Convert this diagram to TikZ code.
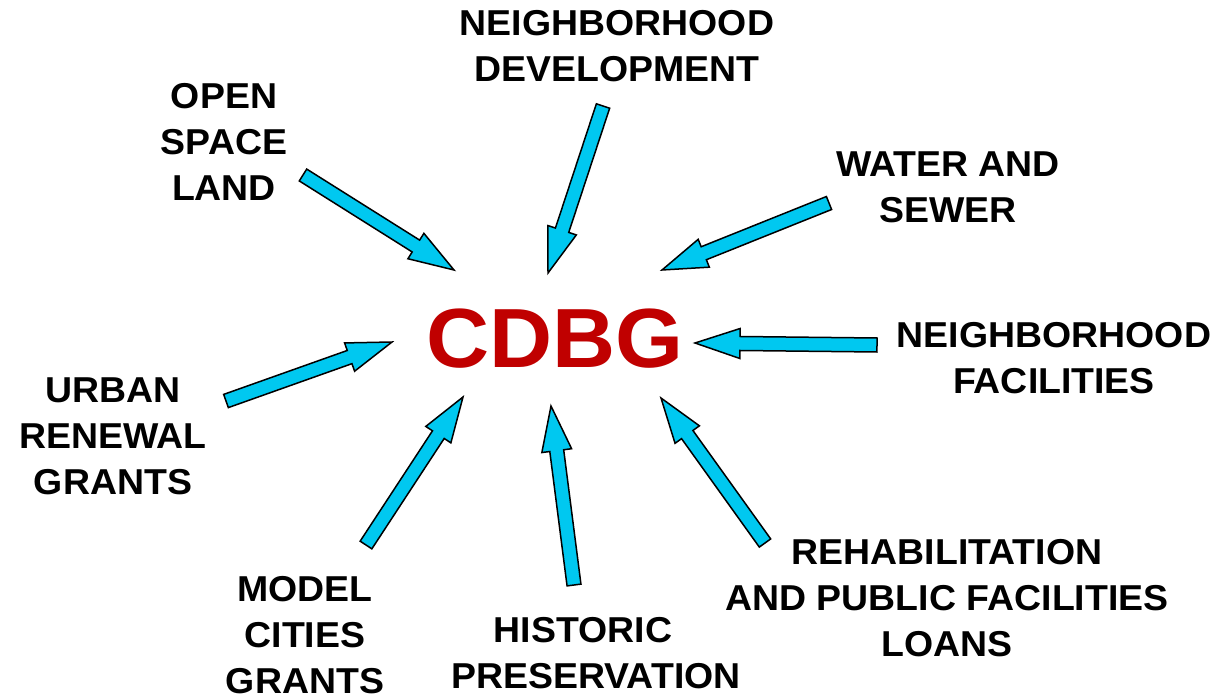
\documentclass[tikz,border=0pt]{standalone}
\usepackage{fontspec}
\setmainfont{Liberation Sans}
\newfontfamily\lblfont[FakeStretch=1.04]{Liberation Sans}
\usetikzlibrary{calc}
\definecolor{arrowfill}{RGB}{0,200,240}
\definecolor{cdbgred}{RGB}{192,0,0}
\tikzset{
  lbl/.style={font=\lblfont\bfseries\fontsize{36}{46}\selectfont, align=center, inner sep=0pt, text=black},
  hub/.style={font=\lblfont\bfseries\fontsize{84}{90}\selectfont, inner sep=0pt, text=cdbgred},
  barrow/.style={fill=arrowfill, draw=black, line width=1.5pt, line join=miter}
}
\newcommand\blockarrow[2]{%
  \coordinate (#1-h) at ($(#2)!45pt!(#1)$);
  \draw[barrow] ($(#1)!7pt!90:(#2)$) -- ($(#1-h)!7pt!90:(#2)$) -- ($(#1-h)!15pt!90:(#2)$) -- (#2)
    -- ($(#1-h)!15pt!-90:(#2)$) -- ($(#1-h)!7pt!-90:(#2)$) -- ($(#1)!7pt!-90:(#2)$) -- cycle;
}
\begin{document}
\begin{tikzpicture}[x=1pt,y=-1pt]
\useasboundingbox[fill=white] (0,0) rectangle (1218,698);
\node[hub] (cdbg) at (555,338.5) {CDBG};
\node[lbl] (nd) at (617,46) {NEIGHBORHOOD\\DEVELOPMENT};
\node[lbl] (os) at (224,141.5) {OPEN\\SPACE\\LAND};
\node[lbl] (ws) at (948,187.5) {WATER AND\\SEWER};
\node[lbl] (nf) at (1054,358.5) {NEIGHBORHOOD\\FACILITIES};
\node[lbl] (ur) at (113,436) {URBAN\\RENEWAL\\GRANTS};
\node[lbl] (mc) at (305,635) {MODEL\\CITIES\\GRANTS};
\node[lbl] (hp) at (596,653) {HISTORIC\hspace*{26pt}\\PRESERVATION};
\node[lbl] (rp) at (947,598.5) {REHABILITATION\\AND PUBLIC FACILITIES\\LOANS};
% arrow tails and tips
\coordinate (osT) at (303,175);  \coordinate (osP) at (454,270);
\coordinate (ndT) at (603,106);  \coordinate (ndP) at (548,273);
\coordinate (wsT) at (829,203);  \coordinate (wsP) at (662,270);
\coordinate (nfT) at (877,345);  \coordinate (nfP) at (695,343);
\coordinate (urT) at (226,401);  \coordinate (urP) at (392,342);
\coordinate (mcT) at (366,545);  \coordinate (mcP) at (463,397);
\coordinate (hpT) at (574,585);  \coordinate (hpP) at (551,406);
\coordinate (rpT) at (765,543);  \coordinate (rpP) at (661,398);
\blockarrow{osT}{osP}
\blockarrow{ndT}{ndP}
\blockarrow{wsT}{wsP}
\blockarrow{nfT}{nfP}
\blockarrow{urT}{urP}
\blockarrow{mcT}{mcP}
\blockarrow{hpT}{hpP}
\blockarrow{rpT}{rpP}
\end{tikzpicture}
\end{document}
